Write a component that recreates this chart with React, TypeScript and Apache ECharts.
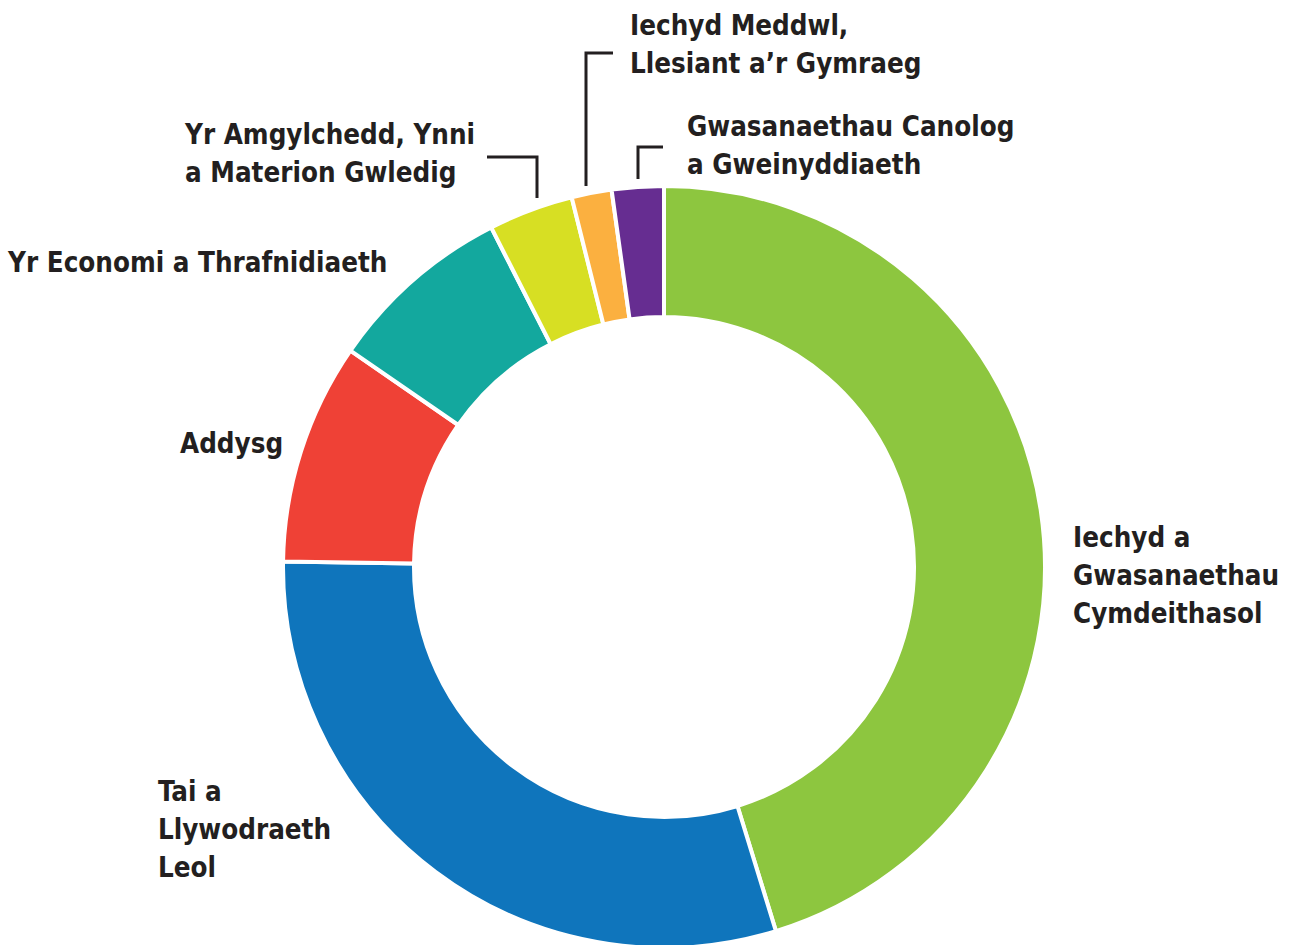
import React, { useEffect, useRef } from "react";
import * as echarts from "echarts";

const categories = [
  "Iechyd a\nGwasanaethau\nCymdeithasol",
  "Tai a\nLlywodraeth\nLeol",
  "Addysg",
  "Yr Economi a Thrafnidiaeth",
  "Yr Amgylchedd, Ynni\na Materion Gwledig",
  "Iechyd Meddwl,\nLlesiant a’r Gymraeg",
  "Gwasanaethau Canolog\na Gweinyddiaeth",
];
const values = [45.3, 30.0, 9.4, 7.9, 3.6, 1.7, 2.2];
const colors = ["#8dc63f", "#0f75bc", "#ef4136", "#13a89e", "#d7df23", "#fbb040", "#662d91"];

// label anchor (left, vertical middle of block)
const labelPos: [number, number][] = [
  [1073, 575],
  [158, 829],
  [180, 443],
  [8, 262],
  [185, 153],
  [630, 44],
  [687, 145],
];

const FONT = "'DejaVu Sans Condensed', 'Liberation Sans Narrow', 'Roboto', sans-serif";

export default function App() {
  const ref = useRef<HTMLDivElement>(null);
  useEffect(() => {
    if (!ref.current) return;
    const chart = echarts.init(ref.current, undefined, { renderer: "svg" });
    const lineStyle = { stroke: "#231f20", lineWidth: 3, fill: "none" };
    chart.setOption({
      animation: false,
      backgroundColor: "#ffffff",
      series: [
        {
          type: "pie",
          center: [664, 567],
          radius: [250, 381],
          startAngle: 90,
          clockwise: true,
          avoidLabelOverlap: false,
          data: categories.map((name, i) => ({
            name,
            value: values[i],
            itemStyle: { color: colors[i] },
          })),
          itemStyle: { borderColor: "#ffffff", borderWidth: 4 },
          label: {
            show: true,
            position: "outside",
            formatter: "{b}",
            color: "#231f20",
            fontFamily: FONT,
            fontWeight: "bold",
            fontSize: 27.5,
            lineHeight: 38,
          },
          labelLine: { show: false },
          labelLayout: (p: any) => ({
            x: labelPos[p.dataIndex][0],
            y: labelPos[p.dataIndex][1],
            align: "left",
            verticalAlign: "middle",
          }),
          emphasis: { disabled: true },
        },
      ],
      graphic: [
        { type: "polyline", shape: { points: [[487, 157], [537, 157], [537, 198]] }, style: lineStyle },
        { type: "polyline", shape: { points: [[613, 53], [586, 53], [586, 186]] }, style: lineStyle },
        { type: "polyline", shape: { points: [[663, 147], [638, 147], [638, 179]] }, style: lineStyle },
      ],
    });
    return () => chart.dispose();
  }, []);
  return (
    <div
      ref={ref}
      style={{ position: "fixed", left: 0, top: 0, width: 1293, height: 945 }}
    />
  );
}
